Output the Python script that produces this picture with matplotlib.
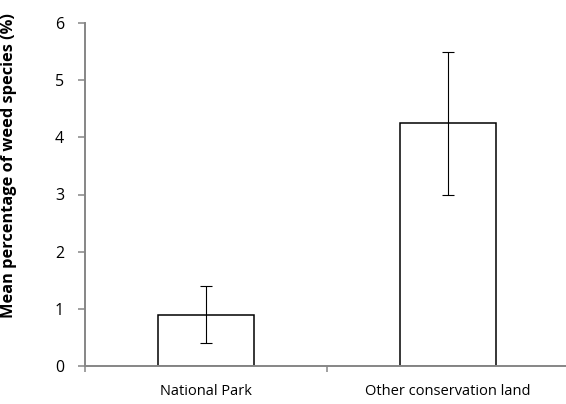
import matplotlib

matplotlib.use("Agg")
import matplotlib.pyplot as plt

# mean weed species share per land type, with error bar half-widths
categories = ["National Park", "Other conservation land"]
means = [0.9, 4.25]
errors = [0.5, 1.25]
y_ticks = [0, 1, 2, 3, 4, 5, 6]

plt.rcParams["font.family"] = ["Open Sans", "DejaVu Sans"]
axis_grey = "#868686"

fig = plt.figure(figsize=(5.66, 4.04), dpi=100)
ax = fig.add_axes([85 / 566, 38 / 404, 484 / 566, 343 / 404])

x = [i + 0.5 for i in range(len(categories))]
ax.bar(x, means, width=0.4, color="white", edgecolor="black", linewidth=1.1, zorder=2)
ax.errorbar(x, means, yerr=errors, fmt="none", ecolor="black", elinewidth=0.8,
            capsize=4.3, capthick=0.8, zorder=3)

ax.set_xlim(0, len(categories))
ax.set_ylim(0, 6)
ax.set_yticks(y_ticks)
ax.set_xticks(x)
ax.set_xticklabels(categories, fontsize=10.5)
ax.set_xticks(range(len(categories) + 1), minor=True)
ax.tick_params(axis="x", which="major", length=0, pad=13)
ax.tick_params(axis="x", which="minor", length=4.5, width=1.1, color=axis_grey, direction="out")
ax.tick_params(axis="y", length=5, width=1.1, color=axis_grey, direction="out",
               labelsize=11.5, pad=10)

for side in ("top", "right"):
    ax.spines[side].set_visible(False)
for side in ("left", "bottom"):
    ax.spines[side].set_color(axis_grey)
    ax.spines[side].set_linewidth(1.4)

ax.set_ylabel("Mean percentage of weed species (%)", fontsize=11.8, fontweight="bold")
ax.yaxis.set_label_coords(-0.14, 0.583)

fig.savefig("out.png", dpi=100)
